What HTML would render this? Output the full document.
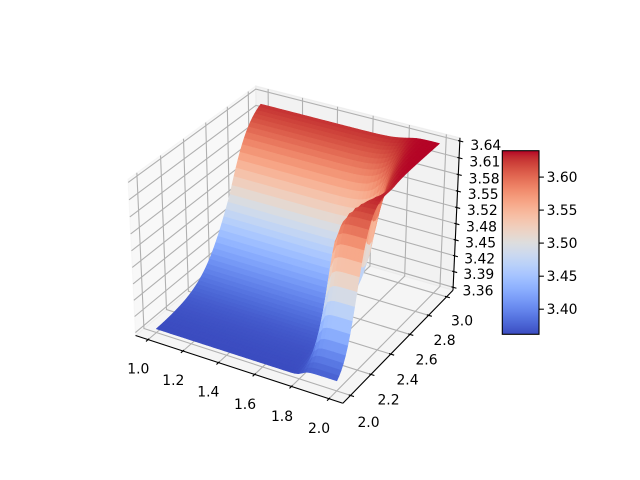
<!DOCTYPE html>
<html><head><meta charset="utf-8">
<style>
html,body{margin:0;padding:0;background:#fff;}
svg{display:block;}
text{font-family:"DejaVu Sans","Liberation Sans",sans-serif;font-size:13.9px;fill:#000;}
</style></head>
<body>
<svg id="s" width="640" height="480" viewBox="0 0 640 480" xmlns="http://www.w3.org/2000/svg">
<defs>
<linearGradient id="cw" x1="0" y1="1" x2="0" y2="0">
<stop offset="0" stop-color="rgb(59,76,192)"/>
<stop offset="0.03125" stop-color="rgb(68,90,204)"/>
<stop offset="0.0625" stop-color="rgb(77,104,215)"/>
<stop offset="0.09375" stop-color="rgb(87,117,225)"/>
<stop offset="0.125" stop-color="rgb(98,130,234)"/>
<stop offset="0.15625" stop-color="rgb(108,142,241)"/>
<stop offset="0.1875" stop-color="rgb(119,154,247)"/>
<stop offset="0.21875" stop-color="rgb(130,165,251)"/>
<stop offset="0.25" stop-color="rgb(141,176,254)"/>
<stop offset="0.28125" stop-color="rgb(152,185,255)"/>
<stop offset="0.3125" stop-color="rgb(163,194,255)"/>
<stop offset="0.34375" stop-color="rgb(174,201,253)"/>
<stop offset="0.375" stop-color="rgb(184,208,249)"/>
<stop offset="0.40625" stop-color="rgb(194,213,244)"/>
<stop offset="0.4375" stop-color="rgb(204,217,238)"/>
<stop offset="0.46875" stop-color="rgb(213,219,230)"/>
<stop offset="0.5" stop-color="rgb(221,221,221)"/>
<stop offset="0.53125" stop-color="rgb(229,216,209)"/>
<stop offset="0.5625" stop-color="rgb(236,211,197)"/>
<stop offset="0.59375" stop-color="rgb(241,204,185)"/>
<stop offset="0.625" stop-color="rgb(245,196,173)"/>
<stop offset="0.65625" stop-color="rgb(247,187,160)"/>
<stop offset="0.6875" stop-color="rgb(247,177,148)"/>
<stop offset="0.71875" stop-color="rgb(247,166,135)"/>
<stop offset="0.75" stop-color="rgb(244,154,123)"/>
<stop offset="0.78125" stop-color="rgb(241,141,111)"/>
<stop offset="0.8125" stop-color="rgb(236,127,99)"/>
<stop offset="0.84375" stop-color="rgb(229,112,88)"/>
<stop offset="0.875" stop-color="rgb(222,96,77)"/>
<stop offset="0.90625" stop-color="rgb(213,80,66)"/>
<stop offset="0.9375" stop-color="rgb(203,62,56)"/>
<stop offset="0.96875" stop-color="rgb(192,40,47)"/>
<stop offset="1" stop-color="rgb(180,4,38)"/>
</linearGradient>
</defs>
<rect width="640" height="480" fill="#fff"/>
<g id="panes"></g>
<g id="grid" fill="none" stroke="#b0b0b0" stroke-width="1.1"></g>
<g id="axes" fill="none" stroke="#000" stroke-width="1.1"></g>
<g id="surf"></g>

<g text-anchor="middle">
<text x="138.3" y="373.3">1.0</text>
<text x="173.3" y="385">1.2</text>
<text x="208.3" y="396.7">1.4</text>
<text x="245" y="409">1.6</text>
<text x="282" y="421">1.8</text>
<text x="319" y="433">2.0</text>
<text x="368.5" y="427">2.0</text>
<text x="388.5" y="404.5">2.2</text>
<text x="407.5" y="384.5">2.4</text>
<text x="426.5" y="364.7">2.6</text>
<text x="444.5" y="345">2.8</text>
<text x="462" y="325.5">3.0</text>
<text x="485.8" y="150">3.64</text>
<text x="484.9" y="166.7">3.61</text>
<text x="484.1" y="183.3">3.58</text>
<text x="483.2" y="199">3.55</text>
<text x="482.3" y="215">3.52</text>
<text x="481.5" y="231.7">3.48</text>
<text x="480.6" y="247.7">3.45</text>
<text x="479.7" y="263.3">3.42</text>
<text x="478.8" y="279">3.39</text>
<text x="478" y="295.7">3.36</text>
</g>

<rect x="502.3" y="150.7" width="36.7" height="183.6" fill="url(#cw)" stroke="#000" stroke-width="1.1"/>
<g stroke="#000" stroke-width="1.1">
<line x1="539" y1="177.1" x2="543.9" y2="177.1"/>
<line x1="539" y1="210.1" x2="543.9" y2="210.1"/>
<line x1="539" y1="243.1" x2="543.9" y2="243.1"/>
<line x1="539" y1="276.2" x2="543.9" y2="276.2"/>
<line x1="539" y1="309.2" x2="543.9" y2="309.2"/>
</g>
<g>
<text x="546.6" y="182.1">3.60</text>
<text x="546.6" y="215.1">3.55</text>
<text x="546.6" y="248.1">3.50</text>
<text x="546.6" y="281.2">3.45</text>
<text x="546.6" y="314.2">3.40</text>
</g>
</svg>
<script>
(function(){
const S=1995,CX=297.2,CY=237,AX=1.142864,AZ=0.857148;
function P(tx,ty,tz){
  const qx=(tx-0.5)*AX,qy=(ty-0.5)*AX,qz=(tz-0.5)*AZ;
  const u=0.8660254*qx+0.5*qy;
  const v=-0.25*qx+0.4330127*qy+0.8660254*qz;
  const w=0.4330127*qx-0.75*qy+0.5*qz;
  const d=10-w;
  return [CX+S*u/d, CY-S*v/d, w];
}
const E=1/48, LO=-E, HI=1+E;
const NS='http://www.w3.org/2000/svg';
function el(parent,tag,attrs){const e=document.createElementNS(NS,tag);for(const k in attrs)e.setAttribute(k,attrs[k]);parent.appendChild(e);return e;}
function pts(arr){return arr.map(p=>p[0].toFixed(2)+','+p[1].toFixed(2)).join(' ');}

const panes=document.getElementById('panes');
el(panes,'polygon',{points:pts([P(LO,LO,LO),P(LO,HI,LO),P(LO,HI,HI),P(LO,LO,HI)]),fill:'rgba(242,242,242,0.5)',stroke:'rgba(242,242,242,0.5)','stroke-width':1.1});
el(panes,'polygon',{points:pts([P(LO,HI,LO),P(HI,HI,LO),P(HI,HI,HI),P(LO,HI,HI)]),fill:'rgba(230,230,230,0.5)',stroke:'rgba(230,230,230,0.5)','stroke-width':1.1});
el(panes,'polygon',{points:pts([P(LO,LO,LO),P(HI,LO,LO),P(HI,HI,LO),P(LO,HI,LO)]),fill:'rgba(236,236,236,0.5)',stroke:'rgba(236,236,236,0.5)','stroke-width':1.1});

const grid=document.getElementById('grid');
const xt=[1,1.2,1.4,1.6,1.8,2].map(x=>(x-0.95)/1.1);
const yt=[2,2.2,2.4,2.6,2.8,3].map(y=>(y-1.95)/1.1);
const zt=[];for(let i=0;i<10;i++)zt.push(i/9);
xt.forEach(t=>el(grid,'polyline',{points:pts([P(t,LO,LO),P(t,HI,LO),P(t,HI,HI)])}));
yt.forEach(t=>el(grid,'polyline',{points:pts([P(HI,t,LO),P(LO,t,LO),P(LO,t,HI)])}));
zt.forEach(t=>el(grid,'polyline',{points:pts([P(LO,LO,t),P(LO,HI,t),P(HI,HI,t)])}));

const axes=document.getElementById('axes');
el(axes,'polyline',{points:pts([P(LO,LO,LO),P(HI,LO,LO)])});
el(axes,'polyline',{points:pts([P(HI,LO,LO),P(HI,HI,LO)])});
el(axes,'polyline',{points:pts([P(HI,HI,LO),P(HI,HI,HI)])});
const TO=1/60, TI=1/120;
xt.forEach(t=>el(axes,'polyline',{points:pts([P(t,LO-TO,LO),P(t,LO+TI,LO)])}));
yt.forEach(t=>el(axes,'polyline',{points:pts([P(HI+TO,t,LO),P(HI-TI,t,LO)])}));
zt.forEach(t=>el(axes,'polyline',{points:pts([P(HI+TO,HI,t),P(HI-TI,HI,t)])}));

const CW=[[59,76,192],[68,90,204],[77,104,215],[87,117,225],[98,130,234],[108,142,241],[119,154,247],[130,165,251],[141,176,254],[152,185,255],[163,194,255],[174,201,253],[184,208,249],[194,213,244],[204,217,238],[213,219,230],[221,221,221],[229,216,209],[236,211,197],[241,204,185],[245,196,173],[247,187,160],[247,177,148],[247,166,135],[244,154,123],[241,141,111],[236,127,99],[229,112,88],[222,96,77],[213,80,66],[203,62,56],[192,40,47],[180,4,38]];
function cmap(v){
  v=Math.max(0,Math.min(1,v));
  const f=v*32, i=Math.min(31,Math.floor(f)), r=f-i;
  const a=CW[i],b=CW[i+1];
  return 'rgb('+Math.round(a[0]+(b[0]-a[0])*r)+','+Math.round(a[1]+(b[1]-a[1])*r)+','+Math.round(a[2]+(b[2]-a[2])*r)+')';
}

function zf(x,y){
  let t=(y-2.25)/0.3; t=Math.max(0,Math.min(1,t)); t=t*t*(3-2*t);
  const xb=1.79+0.13*t, sc=0.015+0.035*t;
  const s=1/(1+Math.exp(-(x-xb)/sc));
  const c=2.69-0.51*s;
  const wl=0.26-0.14*s, wh=0.20-0.08*s;
  const d=y-c; const w=d<0?wl:wh;
  return 0.5+0.5*Math.tanh(d/w);
}
const N=50;
const V=[];
for(let i=0;i<N;i++){V.push([]);for(let j=0;j<N;j++){
  const x=1+i/(N-1), y=2+j/(N-1), z=zf(x,y);
  V[i].push({p:P((x-0.95)/1.1,(y-1.95)/1.1,z),z:z});
}}
const polys=[];
let mn=1e9,mx=-1e9;
for(let i=0;i<N-1;i++)for(let j=0;j<N-1;j++){
  const c=[V[i][j],V[i+1][j],V[i+1][j+1],V[i][j+1]];
  const az=(c[0].z+c[1].z+c[2].z+c[3].z)/4;
  const dp=(c[0].p[2]+c[1].p[2]+c[2].p[2]+c[3].p[2])/4;
  polys.push({pts:c.map(q=>q.p),z:az,d:dp});
  if(az<mn)mn=az; if(az>mx)mx=az;
}
polys.sort((a,b)=>a.d-b.d);
const surf=document.getElementById('surf');
let html='';
polys.forEach(p=>{
  const col=cmap((p.z-mn)/(mx-mn));
  html+='<polygon points="'+pts(p.pts)+'" fill="'+col+'" stroke="'+col+'" stroke-width="0.6" stroke-linejoin="round"/>';
});
surf.innerHTML=html;
})();
</script>
</body></html>
